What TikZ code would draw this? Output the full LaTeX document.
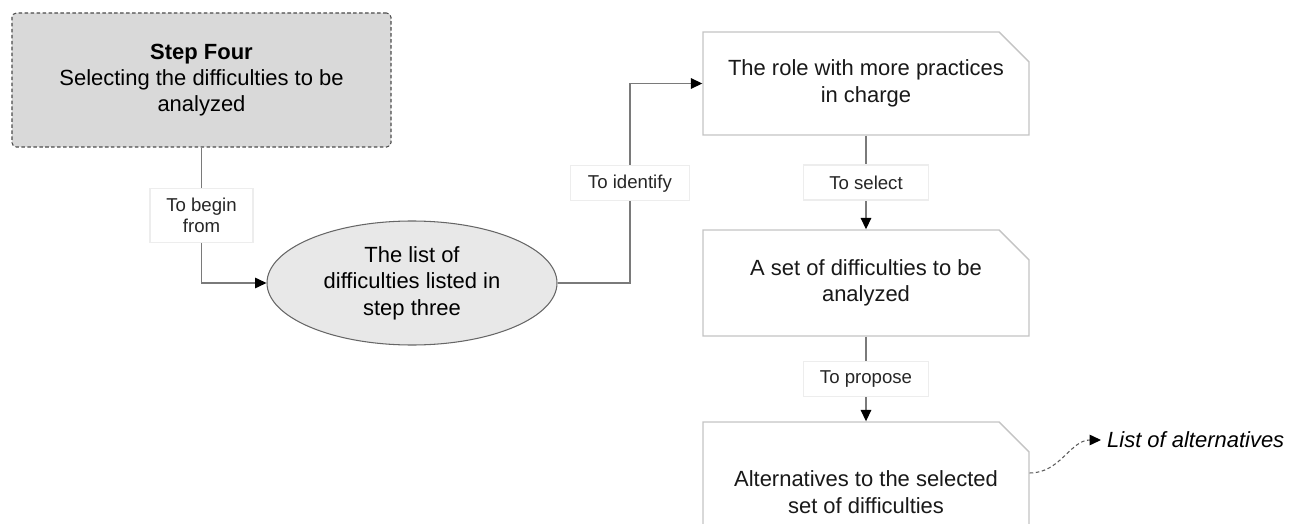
\documentclass[tikz,border=0pt]{standalone}
\usepackage{fontspec}
\setmainfont{Liberation Sans}
\usetikzlibrary{arrows.meta,shapes.geometric,shapes.misc,calc}

\definecolor{boxline}{HTML}{C4C4C4}
\definecolor{stepfill}{HTML}{D9D9D9}
\definecolor{ovalfill}{HTML}{E8E8E8}
\definecolor{wire}{HTML}{7A7A7A}

\begin{document}
\begin{tikzpicture}[
    font=\fontsize{12.5}{15}\selectfont,
    stepbox/.style={draw=black!70, dashed, dash pattern=on 2pt off 1.4pt,
      fill=stepfill, rounded corners=2.5pt, line width=0.6pt,
      minimum width=7.58cm, minimum height=2.68cm, align=center},
    oval/.style={ellipse, draw=black!60, fill=ovalfill, line width=0.6pt,
      minimum width=5.8cm, minimum height=2.48cm, align=center, inner sep=0pt},
    notebox/.style={chamfered rectangle, chamfered rectangle corners=north east,
      chamfered rectangle xsep=0.3cm, chamfered rectangle ysep=0.3cm,
      draw=boxline, fill=white, line width=0.8pt,
      minimum width=6.52cm, align=center, text=black!90},
    verb/.style={draw=black!7, fill=white, font=\fontsize{10.6}{11.6}\selectfont,
      align=center, text=black!85, inner xsep=6pt, minimum height=0.7cm},
    conn/.style={draw=wire, line width=0.7pt,
      -{Triangle[length=6.5pt,width=6pt,fill=black,color=black]}},
    outlink/.style={draw=black!65, dashed, dash pattern=on 2pt off 1.5pt, line width=0.6pt,
      -{Triangle[length=6.5pt,width=6pt,fill=black,color=black]}},
  ]
  \useasboundingbox (0,0) rectangle (25.94,-10.48);

  % left part: the step and its input
  \node[stepbox] (step) at (4.03,-1.60)
    {\textbf{Step Four}\\Selecting the difficulties to be\\analyzed};
  \node[oval] (list) at (8.24,-5.66)
    {The list of\\difficulties listed in\\step three};

  % right column
  \node[notebox, minimum height=2.06cm] (role) at (17.32,-1.67)
    {The role with more practices\\in charge};
  \node[notebox, minimum height=2.12cm] (set) at (17.32,-5.66)
    {A set of difficulties to be\\analyzed};
  \node[notebox, minimum height=2.8cm] (alt) at (17.32,-9.84)
    {Alternatives to the selected\\set of difficulties};
  \node[anchor=west, font=\fontsize{12.5}{15}\selectfont\itshape] (outcome)
    at (22.02,-8.80) {List of alternatives};

  \coordinate (jog) at ($(list.east)!.5!(role.west)$);

  \draw[conn] (step.south) |- node[verb, pos=0.25, minimum width=2.06cm,
    minimum height=1.08cm] {To begin\\from} (list.west);
  \draw[conn] (list.east) -| (jog) |- (role.west);
  \node[verb, minimum width=2.38cm] (identify) at (jog) {To identify};
  \draw[conn] (role.south) -- node[verb, minimum width=2.5cm] {To select} (set.north);
  \draw[conn] (set.south) -- node[verb, minimum width=2.5cm] {To propose} (alt.north);
  \draw[outlink] ([yshift=0.38cm]alt.east) to[out=0,in=180] (outcome.west);
\end{tikzpicture}
\end{document}
